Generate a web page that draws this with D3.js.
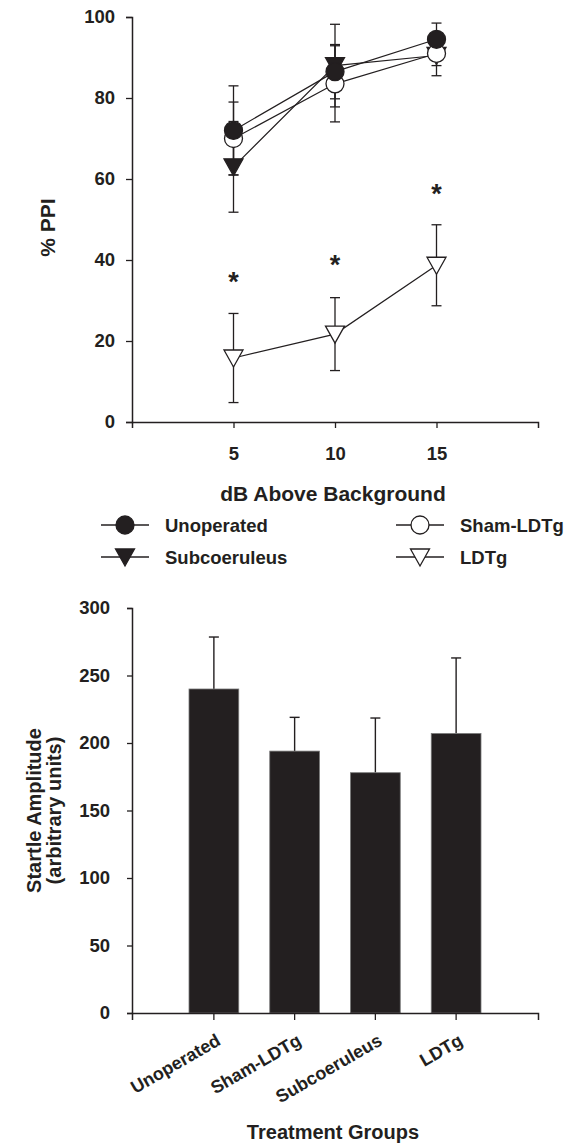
<!DOCTYPE html>
<html><head><meta charset="utf-8">
<script src="https://cdn.jsdelivr.net/npm/d3@7"></script>
<style>
body{margin:0;background:#fff;}
svg{display:block;font-family:"Liberation Sans",Arial,sans-serif;font-weight:bold;}
</style></head>
<body><svg id="c" width="564" height="1145"></svg>
<script>
// ---------- Data: top panel (% PPI) ----------
const dbLevels = [5, 10, 15];
const unoperatedMean = [72, 86.5, 94.5];
const unoperatedErr  = [11, 6.7, 4];
const shamMean = [70, 83.5, 91];
const shamErr  = [9, 9.4, 3];
const subMean = [63, 88, 90.5];
const subErr  = [11.2, 10.2, 5];
const ldtgMean = [15.8, 21.7, 38.7];
const ldtgErr  = [11, 9, 10];
const starValues = [36, 40.3, 57.8];
const ppiTicks = [0, 20, 40, 60, 80, 100];

// ---------- Data: bottom panel (startle) ----------
const groups = ["Unoperated", "Sham-LDTg", "Subcoeruleus", "LDTg"];
const startleMean = [240, 194, 178, 207];
const startleErr  = [38.5, 25, 40.5, 56];
const startleTicks = [0, 50, 100, 150, 200, 250, 300];

const svg = d3.select("#c");
const ink = "#231f20";
const FONT = "'Liberation Sans',Arial,sans-serif";

// ================= TOP PANEL =================
const x1 = d3.scaleLinear().domain([0, 20]).range([132, 538]);
const y1 = d3.scaleLinear().domain([0, 100]).range([422, 17]);

const gx1 = svg.append("g").attr("transform", `translate(0,${y1(0)})`)
  .call(d3.axisBottom(x1).tickValues(dbLevels).tickSize(6).tickPadding(19).tickFormat(d3.format("d")));
const gy1 = svg.append("g").attr("transform", `translate(${x1(0)},0)`)
  .call(d3.axisLeft(y1).tickValues(ppiTicks).tickSize(6).tickPadding(11));
[gx1, gy1].forEach(g => {
  g.select(".domain").attr("stroke", ink).attr("stroke-width", 1.5);
  g.selectAll(".tick line").attr("stroke", ink).attr("stroke-width", 1.3);
  g.selectAll(".tick text").attr("fill", ink).style("font-size", "18.5px").style("font-weight", "bold")
   .style("font-family", FONT);
});

svg.append("text").attr("transform", `translate(55,${(y1(0)+y1(100))/2 + 8}) rotate(-90)`)
  .attr("text-anchor", "middle").attr("fill", ink).style("font-size", "21px").text("% PPI");
svg.append("text").attr("x", 333).attr("y", 501).attr("text-anchor", "middle")
  .attr("fill", ink).style("font-size", "21px").text("dB Above Background");

const series = [
  {name: "Unoperated", mean: unoperatedMean, err: unoperatedErr, shape: "circle", fill: ink},
  {name: "Sham-LDTg", mean: shamMean, err: shamErr, shape: "circle", fill: "#fff"},
  {name: "Subcoeruleus", mean: subMean, err: subErr, shape: "tri", fill: ink},
  {name: "LDTg", mean: ldtgMean, err: ldtgErr, shape: "tri", fill: "#fff"}
];

function drawMarker(g, shape, fill, cx, cy) {
  if (shape === "circle") {
    g.append("circle").attr("cx", cx).attr("cy", cy).attr("r", 9)
      .attr("fill", fill).attr("stroke", ink).attr("stroke-width", 1.3);
  } else {
    const w = 9.5, h = 8;
    g.append("path").attr("d", `M${cx-w},${cy-h}L${cx+w},${cy-h}L${cx},${cy+h+1}Z`)
      .attr("fill", fill).attr("stroke", ink).attr("stroke-width", 1.3).attr("stroke-linejoin", "miter");
  }
}

const lineGen = d3.line().x(d => x1(d[0])).y(d => y1(d[1]));
const plot = svg.append("g");
// error bars
series.forEach(s => {
  dbLevels.forEach((d, i) => {
    const cx = x1(d), hi = y1(s.mean[i] + s.err[i]), lo = y1(s.mean[i] - s.err[i]);
    plot.append("line").attr("x1", cx).attr("x2", cx).attr("y1", hi).attr("y2", lo)
      .attr("stroke", ink).attr("stroke-width", 1.3);
    [hi, lo].forEach(yy => plot.append("line").attr("x1", cx-5).attr("x2", cx+5)
      .attr("y1", yy).attr("y2", yy).attr("stroke", ink).attr("stroke-width", 1.3));
  });
});
// lines
series.forEach(s => {
  plot.append("path").datum(dbLevels.map((d, i) => [d, s.mean[i]]))
    .attr("d", lineGen).attr("fill", "none").attr("stroke", ink).attr("stroke-width", 1.2);
});
// markers
const drawOrder = [2, 1, 0, 3];
drawOrder.forEach(k => {
  const s = series[k];
  dbLevels.forEach((d, i) => drawMarker(plot, s.shape, s.fill, x1(d), y1(s.mean[i])));
});
// significance stars
dbLevels.forEach((d, i) => {
  plot.append("text").attr("x", x1(d)).attr("y", y1(starValues[i]) + 15)
    .attr("text-anchor", "middle").attr("fill", ink).style("font-size", "27px").text("*");
});

// legend
const legendPos = [[125, 525], [420, 525], [125, 557], [420, 557]];
series.forEach((s, j) => {
  const [lx, ly] = legendPos[j];
  const lg = svg.append("g");
  lg.append("line").attr("x1", lx-24).attr("x2", lx+24).attr("y1", ly).attr("y2", ly)
    .attr("stroke", ink).attr("stroke-width", 1.3);
  drawMarker(lg, s.shape, s.fill, lx, ly);
  lg.append("text").attr("x", lx + 40).attr("y", ly + 7).attr("fill", ink)
    .style("font-size", "18.5px").text(s.name);
});

// ================= BOTTOM PANEL =================
const x2 = d3.scaleBand().domain(groups).range([132, 538]).paddingInner(0.384).paddingOuter(0.706);
const y2 = d3.scaleLinear().domain([0, 300]).range([1013, 608]);

const bars = svg.append("g");
groups.forEach((g, i) => {
  const bx = x2(g), cx = bx + x2.bandwidth()/2;
  const top = y2(startleMean[i]), capY = y2(startleMean[i] + startleErr[i]);
  bars.append("line").attr("x1", cx).attr("x2", cx).attr("y1", top).attr("y2", capY)
    .attr("stroke", ink).attr("stroke-width", 1.4);
  bars.append("line").attr("x1", cx-5).attr("x2", cx+5).attr("y1", capY).attr("y2", capY)
    .attr("stroke", ink).attr("stroke-width", 1.4);
  bars.append("rect").attr("x", bx).attr("y", top).attr("width", x2.bandwidth())
    .attr("height", y2(0) - top).attr("fill", ink).attr("stroke", "#777").attr("stroke-width", 0.8);
});

const gx2 = svg.append("g").attr("transform", `translate(0,${y2(0)})`)
  .call(d3.axisBottom(x2).tickSize(7).tickPadding(4));
const gy2 = svg.append("g").attr("transform", `translate(${x2.range()[0]},0)`)
  .call(d3.axisLeft(y2).tickValues(startleTicks).tickSize(5).tickPadding(17));
[gx2, gy2].forEach(g => {
  g.select(".domain").attr("stroke", ink).attr("stroke-width", 1.5);
  g.selectAll(".tick line").attr("stroke", ink).attr("stroke-width", 1.3);
  g.selectAll(".tick text").attr("fill", ink).style("font-weight", "bold")
   .style("font-family", FONT);
});
gy2.selectAll(".tick text").style("font-size", "18.5px");
gx2.selectAll(".tick text").style("font-size", "18px")
  .attr("text-anchor", "end").attr("dy", null).attr("y", null)
  .attr("transform", "translate(8,31) rotate(-30)");

svg.append("text").attr("transform", `translate(41,${(y2(0)+y2(300))/2}) rotate(-90)`)
  .attr("text-anchor", "middle").attr("fill", ink).style("font-size", "20px").text("Startle Amplitude");
svg.append("text").attr("transform", `translate(61,${(y2(0)+y2(300))/2}) rotate(-90)`)
  .attr("text-anchor", "middle").attr("fill", ink).style("font-size", "20px").text("(arbitrary units)");
svg.append("text").attr("x", 333).attr("y", 1139).attr("text-anchor", "middle")
  .attr("fill", ink).style("font-size", "20px").text("Treatment Groups");
</script></body></html>
